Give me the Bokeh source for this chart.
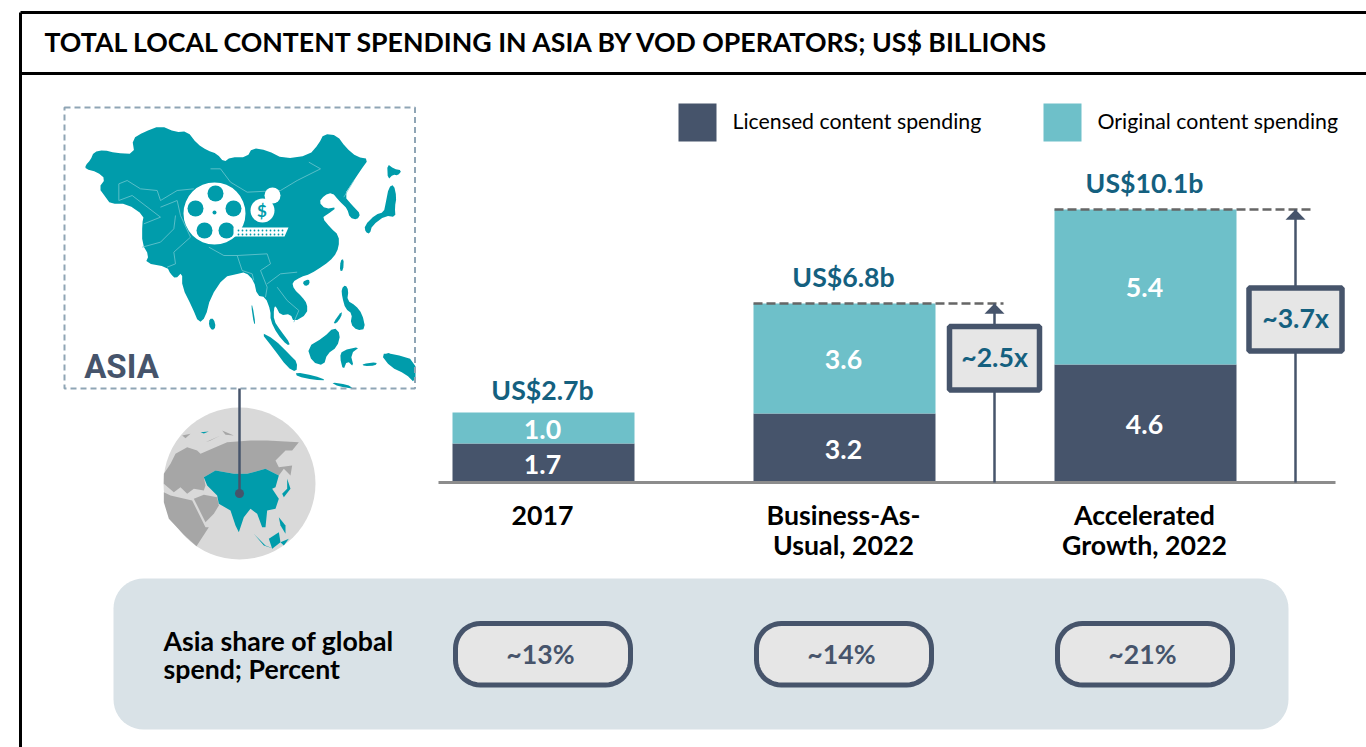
import numpy as np
from bokeh.plotting import figure
from bokeh.models import Range1d
from bokeh.core.properties import value
from bokeh.embed import file_html
from bokeh.resources import INLINE

# ---- chart data ----
title = "TOTAL LOCAL CONTENT SPENDING IN ASIA BY VOD OPERATORS; US$ BILLIONS"
categories = [["2017"], ["Business-As-", "Usual, 2022"], ["Accelerated", "Growth, 2022"]]
licensed_labels = ["1.7", "3.2", "4.6"]
original_labels = ["1.0", "3.6", "5.4"]
# The reference's segments are not quite proportional to their printed values:
licensed_drawn = [1.44, 2.55, 4.37]
original_drawn = [1.15, 4.07, 5.73]
totals = ["US$2.7b", "US$6.8b", "US$10.1b"]
multiples = ["~2.5x", "~3.7x"]
shares = ["~13%", "~14%", "~21%"]
legend_labels = ["Licensed content spending", "Original content spending"]

DARK, LIGHT, TEAL = "#46546B", "#6EC0C9", "#009CAB"
BLUE, BOXFILL = "#14607F", "#E6E6E6"
FONT = value("Lato")
FS = 26.7
K = 27.03  # screen pixels per unit
BASE = 482


def Y(py):
    return (BASE - np.asarray(py, dtype=float)) / K


p = figure(width=1366, height=747, output_backend="svg", toolbar_location=None,
           x_range=Range1d(0, 1366), y_range=Range1d(float(Y(747)), float(Y(0))),
           x_axis_type="linear", min_border=0)
p.axis.visible = False
p.grid.visible = False
p.outline_line_color = None
p.background_fill_color = "white"


def txt(x, y, s, size, color="black", style="normal", align="center", font=FONT):
    p.text([x - 1], [float(Y(y - 1.3))], text=[s], text_font=font, text_font_size=f"{size}px",
           text_color=color, text_font_style=style, text_align=align, text_baseline="middle")


def smooth(pts, rounds=2):
    """Chaikin corner cutting, so traced outlines read as coastlines and not as facets."""
    a = np.array(pts, dtype=float)
    for _ in range(rounds):
        b = np.roll(a, -1, axis=0)
        a = np.column_stack([0.75 * a + 0.25 * b, 0.25 * a + 0.75 * b]).reshape(-1, 2)
    return a


def poly(pts, color, ox=0.0, oy=0.0, s=1.0, soft=False):
    a = smooth(pts, 1) if soft else np.array(pts, dtype=float)
    p.patch(ox + a[:, 0] * s, Y(oy + a[:, 1] * s), fill_color=color, line_color=None)


def line(xs, ys, color, w, dash="solid"):
    p.line(xs, Y(ys), line_color=color, line_width=w, line_dash=dash)


def rrect(x0, y0, x1, y1, r):
    t = np.linspace(0, np.pi / 2, 12)
    xs, ys = [], []
    for cx, cy, a in [(x1 - r, y0 + r, 0), (x0 + r, y0 + r, np.pi / 2),
                      (x0 + r, y1 - r, np.pi), (x1 - r, y1 - r, 1.5 * np.pi)]:
        xs += list(cx + r * np.cos(t + a))
        ys += list(cy - r * np.sin(t + a))
    return xs, ys


def rbox(x0, y0, x1, y1, r, fill, stroke=None, w=0):
    xs, ys = rrect(x0, y0, x1, y1, r)
    p.patch(xs, Y(ys), fill_color=fill, line_color=stroke, line_width=w)


# ---- frame and title ----
line([20, 20], [12, 747], "black", 3)
line([20, 1366], [12, 12], "black", 3)
line([20, 1366], [73, 73], "black", 3)
txt(45, 43, title, FS, style="bold", align="left")

# ---- map panel (outlines traced in a 3x crop of the panel) ----
MX, MY, MS = 60, 100, 1 / 3
mainland = [(75,195),(90,178),(100,155),(130,148),(165,158),(222,160),(215,115),(250,95),(300,75),(345,95),(380,92),
    (410,130),(440,150),(470,160),(490,185),(510,170),(560,170),(575,142),(620,150),(670,175),(745,165),
    (775,130),(790,100),(830,105),(855,140),(890,170),(925,175),(900,210),(880,240),(850,285),(880,320),
    (900,340),(890,358),(868,352),(860,325),(845,310),(835,300),(815,276),(792,284),(775,305),(795,325),
    (830,320),(800,342),(785,352),(810,382),(835,405),(835,440),(820,470),(790,495),(750,520),(720,530),
    (695,545),(700,565),(725,590),(740,610),(740,640),(700,665),(690,640),(660,645),(645,615),(640,625),
    (640,660),(660,690),(690,730),(680,735),(650,700),(630,660),(630,630),(615,590),(590,585),(580,540),
    (555,515),(530,520),(490,530),(450,590),(435,650),(415,668),(395,620),(365,560),(365,515),(345,535),
    (330,520),(320,500),(255,487),(265,465),(245,430),(245,370),(250,345),(200,310),(150,310),(135,290),
    (115,262),(135,235),(110,215),(75,205)]
islands = [
    [(447,655),(460,655),(466,680),(455,690),(445,675)],
    [(912,375),(945,342),(970,335),(975,310),(985,260),(1000,252),(1008,290),(1003,320),(1005,350),(975,345),
     (935,375),(928,400),(915,395)],
    [(980,190),(1000,205),(1024,210),(1012,225),(998,222),(982,238)],
    [(840,480),(850,475),(848,510),(838,512)],
    [(725,545),(745,535),(748,550),(735,558)],
    [(843,565),(855,553),(864,570),(860,600),(885,615),(905,640),(915,685),(890,690),(870,670),(875,640),
     (855,625),(845,590)],
    [(818,667),(845,630),(842,650),(826,670)],
    [(600,695),(640,715),(690,765),(710,785),(708,815),(680,800),(640,745)],
    [(740,740),(790,710),(820,680),(840,700),(830,740),(800,760),(790,795),(755,785)],
    [(845,750),(900,738),(870,760),(880,800),(860,780),(848,810),(838,770)],
    [(705,815),(760,825),(800,840),(760,838),(710,828)],
    [(960,760),(1000,760),(1065,780),(1065,850),(1035,820),(990,800)],
    [(905,790),(950,785),(945,795),(910,797)],
    [(810,845),(860,852),(880,865),(835,858)],
    [(572,615),(576,615),(585,670),(580,670)],
    [(965,765),(990,755),(985,775)],
]
poly(mainland, TEAL, MX, MY, MS, soft=True)
for isl in islands:
    poly(isl, TEAL, MX, MY, MS, soft=True)
borders = [
    [(175,250),(200,240),(240,265),(290,270),(300,300),(350,270),(400,265)],
    [(175,250),(175,300),(215,285),(300,350),(250,370)],
    [(450,205),(480,205),(510,245),(560,275),(660,270),(710,240),(780,205),(745,185)],
    [(300,320),(350,300),(360,345),(390,410),(340,455),(345,490),(320,500)],
    [(245,440),(300,425),(340,385),(345,345)],
    [(445,440),(490,465),(530,465),(620,460),(630,490),(600,510),(620,560),(615,590)],
    [(530,465),(545,510),(575,520),(580,540)],
    [(620,550),(660,520),(710,515)],
    [(650,560),(680,600),(715,630),(700,665)],
    [(850,290),(880,240)],
]
for b in borders:
    a = np.array(b, dtype=float)
    p.line(MX + a[:, 0] * MS, Y(MY + a[:, 1] * MS), line_color="#6FC6CF", line_width=0.8)

# film reel, film strip and coin on the map
p.scatter([214], [float(Y(213))], size=62, fill_color="white", line_color=None)
for hx, hy, d in [(215, 193, 16), (195, 208, 16), (233, 208, 16), (204, 230, 16), (226, 230, 16), (214, 212, 4)]:
    p.scatter([hx], [float(Y(hy))], size=d, fill_color=TEAL, line_color=None)
poly([(233, 227), (288, 227), (284, 236), (233, 236)], "white")
xs_f = list(range(238, 284, 4))
p.scatter(xs_f, [float(Y(230))] * len(xs_f), size=1.8, fill_color=TEAL, line_color=None)
p.scatter(xs_f, [float(Y(234))] * len(xs_f), size=1.8, fill_color=TEAL, line_color=None)
p.scatter([272], [float(Y(195))], size=16, fill_color="white", line_color=None)
p.scatter([262], [float(Y(210))], size=24, fill_color="white", line_color=None)
txt(262.5, 211, "$", 17, TEAL, "bold")

# dashed panel
p.patch([64, 414.5, 414.5, 64], Y([107, 107, 388, 388]), fill_color=None,
        line_color="#8FA5B5", line_width=2, line_dash="6 4")
txt(122, 367, "ASIA", 33, DARK, "bold", "center", value("Roboto"))

# ---- globe (outlines traced in a 3x crop) ----
GOX, GOY, GS = 150, 385, 1 / 3
p.scatter([239], [float(Y(483))], size=152, fill_color="#D9D9D9", line_color=None)
globe_gray = [
    [(40,265),(60,235),(75,205),(110,185),(140,195),(150,205),(195,185),(230,170),(300,165),(350,165),(445,170),
     (425,195),(405,195),(375,225),(385,245),(425,240),(420,270),(400,250),(385,270),(345,250),(290,265),
     (250,265),(195,255),(160,275),(165,300),(160,315),(130,310),(110,325),(90,305),(70,320),(40,295)],
    [(40,320),(60,330),(125,345),(165,425),(175,425),(138,482),(100,448),(55,400),(40,350)],
    [(130,340),(160,328),(200,335),(205,360),(190,385),(165,410)],
    [(165,170),(210,150),(180,165)],
    [(95,150),(120,145),(105,158)],
    [(215,135),(250,150),(225,148)],
]
globe_teal = [
    [(160,275),(195,255),(250,265),(290,265),(345,250),(385,270),(375,305),(365,310),(385,340),(375,370),(350,375),
     (345,425),(335,425),(320,385),(300,370),(280,395),(265,440),(255,420),(240,375),(205,355),(200,330),(170,300)],
    [(410,280),(420,310),(400,335),(395,325),(410,310)],
    [(310,445),(345,480),(370,490),(340,480)],
    [(355,460),(385,440),(390,470),(365,490)],
    [(385,395),(405,420),(405,445),(390,420)],
    [(390,470),(415,460),(400,480)],
    [(150,140),(175,138),(160,144)],
]
for g in globe_gray:
    poly(g, "#A6A6A6", GOX, GOY, GS)
for g in globe_teal:
    poly(g, TEAL, GOX, GOY, GS)
line([239, 239], [388, 493], DARK, 2.5)
p.scatter([239], [float(Y(493))], size=9, fill_color=DARK, line_color=None)

# ---- legend ----
for x, c, lab in zip([678, 1043], [DARK, LIGHT], legend_labels):
    poly([(x, 103), (x + 38, 103), (x + 38, 141), (x, 141)], c)
    txt(x + 55, 122, lab, 21.3, "black", "normal", "left")

# ---- stacked bars ----
centres = [543, 844, 1145]
BW = 182
lic = np.array(licensed_drawn)
ori = np.array(original_drawn)
p.vbar(x=centres, width=BW, bottom=0, top=lic, fill_color=DARK, line_color=None)
p.vbar(x=centres, width=BW, bottom=lic, top=lic + ori, fill_color=LIGHT, line_color=None)
total_gap = [0.83, 0.97, 0.97]
for cx, a, b, la, lb, tot, cat, gap in zip(centres, lic, ori, licensed_labels, original_labels,
                                           totals, categories, total_gap):
    for yy, s in [(a / 2, la), (a + b / 2, lb)]:
        p.text([cx - 1], [yy], text=[s], text_font=FONT, text_font_size=f"{FS}px", text_color="white",
               text_font_style="bold", text_align="center", text_baseline="middle", y_offset=1)
    p.text([cx - 1], [a + b + gap], text=[tot], text_font=FONT, text_font_size=f"{FS}px", text_color=BLUE,
           text_font_style="bold", text_align="center", text_baseline="middle")
    for i, s in enumerate(cat):
        txt(cx, 516 + 30 * i, s, FS, "black", "bold")

line([438, 1335], [482, 482], "#8C8C8C", 3)

# ---- growth arrows ----
tops = (lic + ori)[1:]
for top, x0, x1, ax, (b0, b1, b2, b3), m in zip(
        tops, [753, 1054], [1003, 1313], [994, 1295],
        [(949, 326, 1039, 389.5), (1248.5, 287.5, 1341.5, 350.5)], multiples):
    p.line([x0, x1], [top, top], line_color="#666666", line_width=2.5, line_dash="9 4")
    p.line([ax, ax], [0, top], line_color=DARK, line_width=2.5)
    p.patch([ax - 10, ax + 10, ax], [top - 0.38, top - 0.38, top], fill_color=DARK, line_color=None)
    rbox(b0, b1, b2, b3, 0, BOXFILL, DARK, 5.5)
    txt((b0 + b2) / 2 + 1, (b1 + b3) / 2, m, FS, BLUE, "bold")

# ---- share panel ----
rbox(113, 578, 1288, 729, 30, "#D9E2E7")
txt(164, 642, "Asia share of global", FS, "black", "bold", "left")
txt(164, 670, "spend; Percent", FS, "black", "bold", "left")
for cx, s in zip(centres, shares):
    rbox(cx - 88, 623, cx + 87, 684.5, 25, BOXFILL, DARK, 5)
    txt(cx - 2, 655, s, FS, DARK, "bold")

open("out.html", "w").write(file_html(p, INLINE))
